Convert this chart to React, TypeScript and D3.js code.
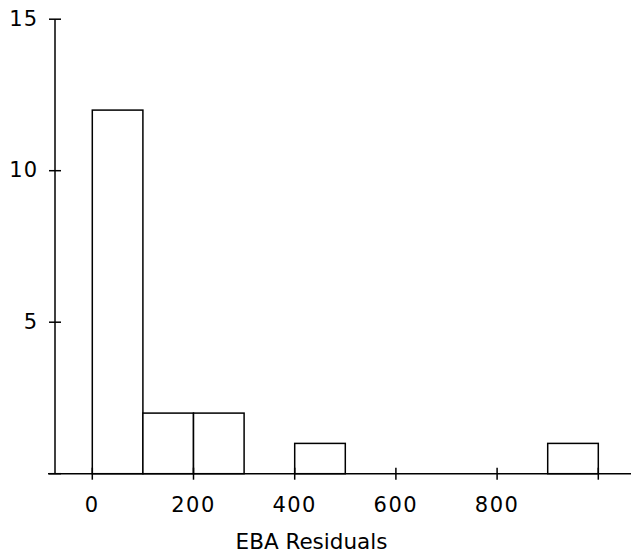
import React from "react";
import * as d3 from "d3";

const binStarts = [0, 100, 200, 300, 400, 500, 600, 700, 800, 900];
const binWidth = 100;
const counts = [12, 2, 2, 0, 1, 0, 0, 0, 0, 1];
const xTicks = [0, 200, 400, 600, 800, 1000];
const xTickLabels = ["0", "200", "400", "600", "800", ""];
const yTicks = [0, 5, 10, 15];
const yTickLabels = ["", "5", "10", "15"];
const xTitle = "EBA Residuals";

const W = 631;
const H = 554;
const FONT = "'DejaVu Sans', Verdana, sans-serif";

export default function App() {
  const x = d3.scaleLinear().domain([0, 1000]).range([92.3, 598.3]);
  const y = d3.scaleLinear().domain([0, 15]).range([473.7, 19.2]);
  const axisX = 55;
  const axisY = y(0);
  return (
    <div style={{ position: "absolute", left: 0, top: 0 }}>
      <svg width={W} height={H} style={{ display: "block", background: "#fff" }}>
        {binStarts.map((b, i) =>
          counts[i] > 0 ? (
            <rect
              key={i}
              x={x(b)}
              y={y(counts[i])}
              width={x(b + binWidth) - x(b)}
              height={y(0) - y(counts[i])}
              fill="#fff"
              stroke="#000"
              strokeWidth={1.5}
            />
          ) : null
        )}
        {/* y axis */}
        <line x1={axisX} x2={axisX} y1={y(15)} y2={axisY} stroke="#000" strokeWidth={1.5} />
        {yTicks.map((t, i) => (
          <g key={t}>
            <line x1={axisX - 6} x2={axisX + 6} y1={y(t)} y2={y(t)} stroke="#000" strokeWidth={1.5} />
            <text
              x={38}
              y={y(t)}
              dy="0.3em"
              textAnchor="end"
              fontFamily={FONT}
              fontSize={21}
              letterSpacing={1}
              fill="#000"
            >
              {yTickLabels[i]}
            </text>
          </g>
        ))}
        {/* x axis */}
        <line x1={48} x2={W} y1={axisY} y2={axisY} stroke="#000" strokeWidth={1.5} />
        {xTicks.map((t, i) => (
          <g key={t}>
            <line x1={x(t)} x2={x(t)} y1={axisY - 6} y2={axisY + 6} stroke="#000" strokeWidth={1.5} />
            <text
              x={x(t)}
              y={511.5}
              textAnchor="middle"
              fontFamily={FONT}
              fontSize={21}
              letterSpacing={1.5}
              fill="#000"
            >
              {xTickLabels[i]}
            </text>
          </g>
        ))}
        <text x={311.5} y={549} textAnchor="middle" fontFamily={FONT} fontSize={21.5} fill="#000">
          {xTitle}
        </text>
      </svg>
    </div>
  );
}
